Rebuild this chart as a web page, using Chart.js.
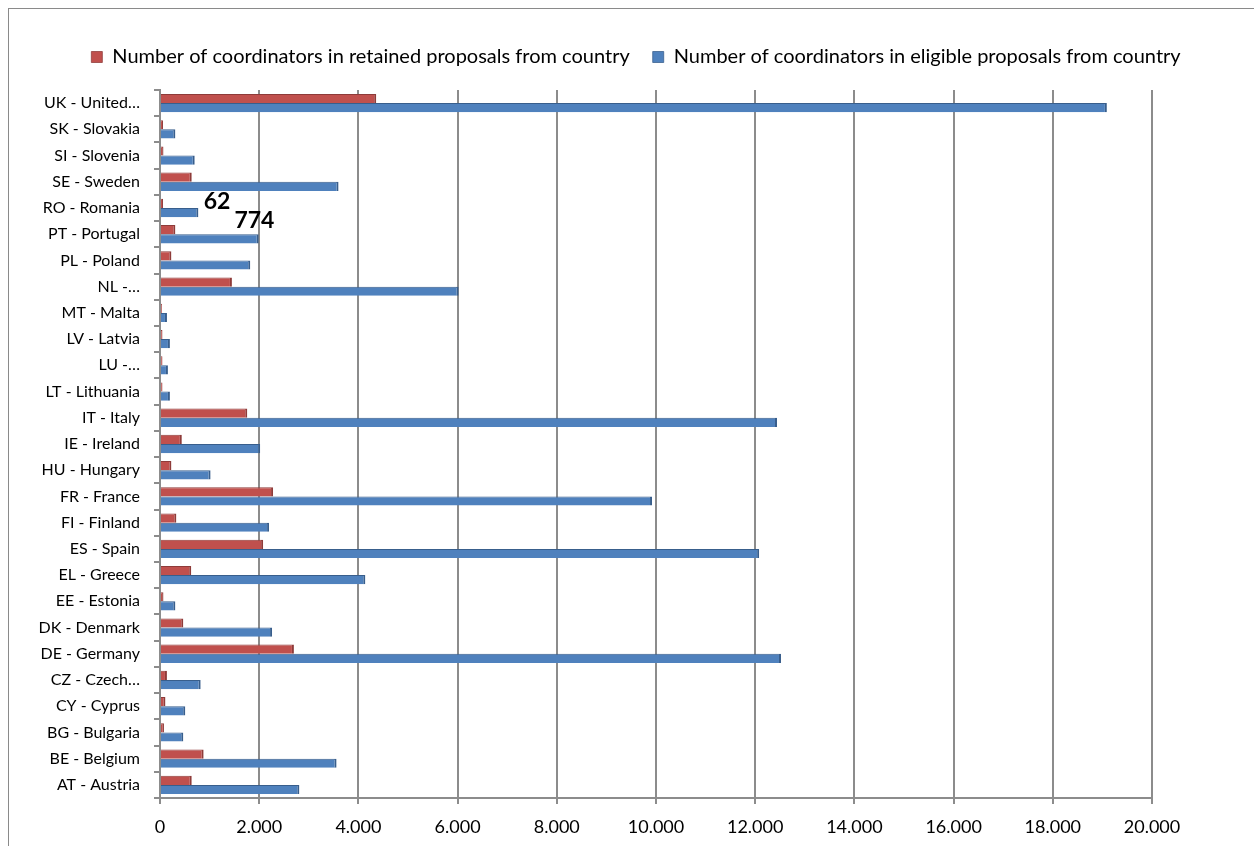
<!DOCTYPE html>
<html>
<head>
<meta charset="utf-8">
<script src="https://cdn.jsdelivr.net/npm/chart.js@4.4.1/dist/chart.umd.min.js"></script>
<style>
  html, body { margin: 0; padding: 0; background: #fff; overflow: hidden; }
  #wrap { position: relative; width: 1254px; height: 846px; }
  #frame { position: absolute; left: 8px; top: 8px; width: 1400px; height: 1000px;
           border: 1px solid #8a8a8a; box-sizing: border-box; pointer-events: none; }
  canvas { position: absolute; left: 0; top: 0; }
</style>
</head>
<body>
<div id="wrap">
  <div id="frame"></div>
  <canvas id="chart" width="1254" height="846"></canvas>
</div>
<script>
// Country categories, bottom to top
const countries = [
  'AT - Austria', 'BE - Belgium', 'BG - Bulgaria', 'CY - Cyprus', 'CZ - Czech…',
  'DE - Germany', 'DK - Denmark', 'EE - Estonia', 'EL - Greece', 'ES - Spain',
  'FI - Finland', 'FR - France', 'HU - Hungary', 'IE - Ireland', 'IT - Italy',
  'LT - Lithuania', 'LU -…', 'LV - Latvia', 'MT - Malta', 'NL -…',
  'PL - Poland', 'PT - Portugal', 'RO - Romania', 'SE - Sweden', 'SI - Slovenia',
  'SK - Slovakia', 'UK - United…'
];

// Coordinators in retained proposals
const retained = [
  640, 880, 80, 110, 140,
  2700, 470, 70, 630, 2080,
  330, 2280, 230, 440, 1760,
  50, 50, 50, 40, 1450,
  230, 310, 62, 640, 70,
  60, 4360
];

// Coordinators in eligible proposals
const eligible = [
  2810, 3560, 470, 510, 820,
  12520, 2260, 310, 4140, 12080,
  2200, 9920, 1020, 2020, 12440,
  200, 160, 200, 140, 6020,
  1820, 1990, 774, 3600, 700,
  310, 19090
];

const seriesNames = [
  'Number of coordinators in retained proposals from country',
  'Number of coordinators in eligible proposals from country'
];

const xTickLabels = ['0', '2.000', '4.000', '6.000', '8.000', '10.000',
                     '12.000', '14.000', '16.000', '18.000', '20.000'];

// Values written next to the Romania bars
const annotatedCountry = 'RO - Romania';

const FONT = 'Lato, Carlito, Calibri, sans-serif';

// Values printed beside the Romania bars
const valueNotes = {
  id: 'valueNotes',
  afterDatasetsDraw(chart) {
    const idx = countries.indexOf(annotatedCountry);
    if (idx < 0) return;
    const ctx = chart.ctx;
    ctx.save();
    ctx.font = 'bold 23px ' + FONT;
    ctx.fillStyle = '#000';
    ctx.textAlign = 'center';
    ctx.textBaseline = 'alphabetic';
    const offsets = [[54, 6], [56, 15]];
    chart.data.datasets.forEach((ds, i) => {
      const bar = chart.getDatasetMeta(i).data[idx];
      if (!bar) return;
      ctx.fillText(String(ds.data[idx]), bar.x + offsets[i][0], bar.y + offsets[i][1]);
    });
    ctx.restore();
  }
};

// Legend kept on one row, with extra room beneath it, centred on the frame
const LEGEND_CENTER = 636;
const legendPlacement = {
  id: 'legendPlacement',
  beforeInit(chart) {
    const legend = chart.legend;
    const update = legend.update;
    legend.update = function (maxWidth, maxHeight, margins) {
      update.call(this, 1254, maxHeight, margins);
    };
    const fit = legend.fit;
    legend.fit = function () {
      fit.call(this);
      this.height += 13;
    };
  },
  afterLayout(chart) {
    const legend = chart.legend;
    legend.left = LEGEND_CENTER - 620;
    legend.right = LEGEND_CENTER + 620;
    legend.width = 1240;
  }
};

new Chart(document.getElementById('chart'), {
  type: 'bar',
  data: {
    labels: countries,
    datasets: [
      {
        label: seriesNames[0],
        data: retained,
        backgroundColor: '#C0504D',
        borderColor: '#8E3B39',
        borderWidth: { top: 1, right: 2, bottom: 0, left: 0 },
        borderSkipped: false
      },
      {
        label: seriesNames[1],
        data: eligible,
        backgroundColor: '#4F81BD',
        borderColor: '#385E8C',
        borderWidth: { top: 1, right: 2, bottom: 0, left: 0 },
        borderSkipped: false
      }
    ]
  },
  options: {
    indexAxis: 'y',
    responsive: false,
    animation: false,
    layout: { padding: { left: 18, right: 102, top: 24, bottom: 8 } },
    datasets: { bar: { categoryPercentage: 0.7, barPercentage: 1.0 } },
    plugins: {
      tooltip: { enabled: false },
      legend: {
        position: 'top',
        labels: {
          boxWidth: 11,
          boxHeight: 11,
          padding: 23,
          color: '#000',
          font: { family: FONT, size: 20 }
        }
      }
    },
    scales: {
      x: {
        min: 0,
        max: 20000,
        ticks: {
          stepSize: 2000,
          color: '#000',
          padding: 12,
          font: { family: FONT, size: 18 },
          callback: (v, i) => xTickLabels[i]
        },
        grid: { color: '#8c8c8c', lineWidth: 2, tickLength: 6, tickColor: '#8c8c8c' },
        border: { color: '#8c8c8c', width: 2 },
        afterFit: (s) => { s.height = 40; }
      },
      y: {
        reverse: true,
        ticks: {
          color: '#000',
          padding: 14,
          autoSkip: false,
          font: { family: FONT, size: 16 }
        },
        grid: { drawOnChartArea: false, tickLength: 6, color: '#8c8c8c', lineWidth: 2 },
        border: { color: '#8c8c8c', width: 2 },
        afterFit: (s) => { s.width = 142; }
      }
    }
  },
  plugins: [valueNotes, legendPlacement]
});
</script>
</body>
</html>
